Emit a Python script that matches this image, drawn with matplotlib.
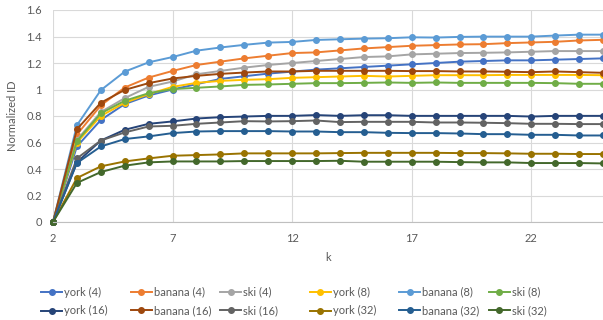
import matplotlib
matplotlib.use("Agg")
import matplotlib.pyplot as plt

plt.rcParams['font.family'] = ['Lato', 'DejaVu Sans']

k = list(range(2, 26))

york4 = [0, 0.57, 0.77, 0.89, 0.955, 1.0, 1.04, 1.08, 1.10, 1.12, 1.135, 1.15,
         1.16, 1.17, 1.18, 1.19, 1.20, 1.21, 1.215, 1.22, 1.22, 1.225, 1.23, 1.235]
banana4 = [0, 0.66, 0.88, 1.015, 1.09, 1.14, 1.185, 1.21, 1.235, 1.255, 1.275, 1.28,
           1.295, 1.31, 1.32, 1.33, 1.335, 1.34, 1.342, 1.35, 1.355, 1.36, 1.37, 1.375]
ski4 = [0, 0.62, 0.83, 0.935, 1.02, 1.06, 1.115, 1.14, 1.165, 1.185, 1.2, 1.215,
        1.23, 1.245, 1.25, 1.265, 1.27, 1.275, 1.277, 1.28, 1.285, 1.29, 1.29, 1.29]
york8 = [0, 0.6, 0.80, 0.90, 0.965, 1.02, 1.05, 1.065, 1.073, 1.078, 1.088, 1.093,
         1.098, 1.103, 1.098, 1.103, 1.108, 1.108, 1.108, 1.11, 1.11, 1.11, 1.11, 1.108]
banana8 = [0, 0.73, 0.995, 1.135, 1.205, 1.245, 1.293, 1.317, 1.337, 1.354, 1.359, 1.374,
           1.379, 1.384, 1.387, 1.394, 1.392, 1.397, 1.399, 1.399, 1.399, 1.407, 1.414, 1.414]
ski8 = [0, 0.61, 0.82, 0.915, 0.972, 1.003, 1.013, 1.023, 1.035, 1.038, 1.043, 1.048,
        1.048, 1.05, 1.053, 1.05, 1.053, 1.05, 1.05, 1.05, 1.05, 1.048, 1.043, 1.043]
york16 = [0, 0.45, 0.615, 0.696, 0.741, 0.759, 0.781, 0.791, 0.796, 0.801, 0.801, 0.807,
          0.801, 0.806, 0.806, 0.801, 0.801, 0.801, 0.801, 0.801, 0.796, 0.801, 0.801, 0.801]
banana16 = [0, 0.70, 0.90, 0.997, 1.048, 1.083, 1.103, 1.118, 1.128, 1.136, 1.136, 1.141,
            1.141, 1.141, 1.141, 1.139, 1.139, 1.136, 1.136, 1.134, 1.131, 1.136, 1.131, 1.126]
ski16 = [0, 0.48, 0.615, 0.676, 0.721, 0.726, 0.741, 0.751, 0.761, 0.759, 0.761, 0.766,
         0.754, 0.756, 0.756, 0.756, 0.751, 0.751, 0.749, 0.746, 0.741, 0.741, 0.739, 0.739]
york32 = [0, 0.332, 0.42, 0.457, 0.48, 0.5, 0.505, 0.51, 0.518, 0.518, 0.518, 0.518,
          0.52, 0.522, 0.522, 0.522, 0.522, 0.52, 0.52, 0.518, 0.515, 0.515, 0.513, 0.513]
banana32 = [0, 0.445, 0.57, 0.626, 0.646, 0.671, 0.683, 0.686, 0.686, 0.686, 0.683, 0.683,
            0.678, 0.678, 0.673, 0.671, 0.671, 0.668, 0.663, 0.663, 0.658, 0.658, 0.653, 0.653]
ski32 = [0, 0.295, 0.377, 0.425, 0.45, 0.457, 0.457, 0.457, 0.46, 0.46, 0.46, 0.46,
         0.462, 0.455, 0.455, 0.455, 0.455, 0.452, 0.45, 0.45, 0.445, 0.445, 0.445, 0.442]

labels = ['york (4)', 'banana (4)', 'ski (4)', 'york (8)', 'banana (8)', 'ski (8)',
          'york (16)', 'banana (16)', 'ski (16)', 'york (32)', 'banana (32)', 'ski (32)']
series = [york4, banana4, ski4, york8, banana8, ski8,
          york16, banana16, ski16, york32, banana32, ski32]
colors = ['#4472C4', '#ED7D31', '#A5A5A5', '#FFC000', '#5B9BD5', '#70AD47',
          '#264478', '#9E480E', '#636363', '#997300', '#255E91', '#43682B']

fig = plt.figure(figsize=(6.03, 3.2), dpi=100)
ax = fig.add_axes([53 / 603, 98 / 320, 550 / 603, 212 / 320])

handles = []
for ys, lab, c in zip(series, labels, colors):
    h, = ax.plot(k, ys, color=c, lw=1.4, marker='o', markersize=4,
                 label=lab, clip_on=False)
    handles.append(h)

ax.set_xlim(2, 25)
ax.set_ylim(0, 1.6)
ax.set_xticks([2, 7, 12, 17, 22])
ax.set_yticks([0, 0.2, 0.4, 0.6, 0.8, 1.0, 1.2, 1.4, 1.6])
ax.set_yticklabels(['0', '0.2', '0.4', '0.6', '0.8', '1', '1.2', '1.4', '1.6'])
ax.grid(True, color='#D9D9D9', lw=0.8)
ax.set_axisbelow(True)
for s in ['top', 'right', 'left']:
    ax.spines[s].set_visible(False)
ax.spines['bottom'].set_color('#BFBFBF')
ax.tick_params(length=0, labelsize=8, labelcolor='#595959', pad=8)

ax.set_xlabel('k', fontsize=8, color='#595959', labelpad=6)
ax.set_ylabel('Normalized ID', fontsize=8, color='#595959', labelpad=6)

# legend: 6 equal-width columns, two rows (Excel style)
for col in range(6):
    pair = [col, col + 6]
    leg = fig.legend([handles[i] for i in pair], [labels[i] for i in pair],
                     loc='center left',
                     bbox_to_anchor=((41 + 89.5 * col) / 603, 1 - 301.5 / 320),
                     frameon=False, fontsize=8, labelcolor='#595959',
                     handlelength=1.9, handletextpad=0.2, borderpad=0,
                     labelspacing=0.7, borderaxespad=0)

fig.savefig('out.png', dpi=100)
